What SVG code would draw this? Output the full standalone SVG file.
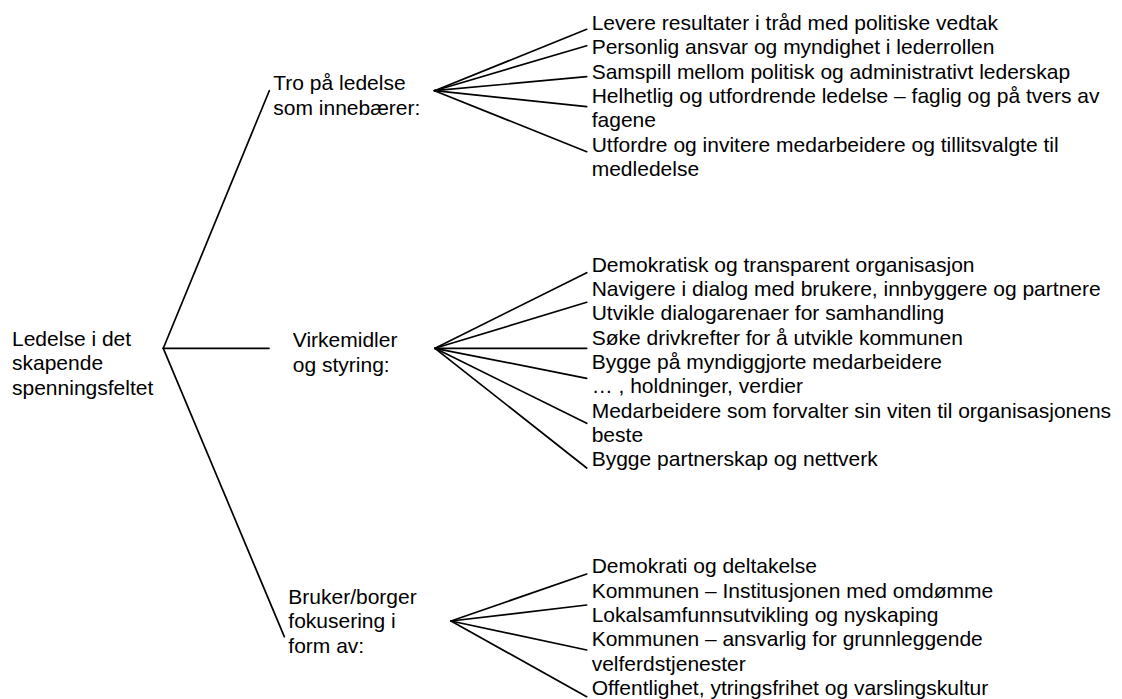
<svg xmlns="http://www.w3.org/2000/svg" width="1122" height="699" viewBox="0 0 1122 699">
<style>
text{font-family:"Liberation Sans",Arial,sans-serif;font-size:21px;fill:#000}
.c line{stroke:#000;stroke-width:1.7;fill:none;stroke-linecap:round}
</style>
<rect width="1122" height="699" fill="#fff"/>
<g id="connectors" class="c">
<line x1="163.3" y1="348.3" x2="269.3" y2="90.7"/>
<line x1="163.3" y1="348.3" x2="269" y2="348.3"/>
<line x1="163.3" y1="348.3" x2="284.3" y2="636.7"/>
<line x1="434.5" y1="90.7" x2="586.7" y2="29.3"/>
<line x1="434.5" y1="90.7" x2="586.7" y2="45.7"/>
<line x1="434.5" y1="90.7" x2="586.7" y2="76.7"/>
<line x1="434.5" y1="90.7" x2="586.7" y2="106.7"/>
<line x1="434.5" y1="90.7" x2="586.7" y2="151.7"/>
<line x1="435" y1="348.3" x2="586.7" y2="272.7"/>
<line x1="435" y1="348.3" x2="586.7" y2="302.3"/>
<line x1="435" y1="348.3" x2="586.7" y2="348.3"/>
<line x1="435" y1="348.3" x2="586.7" y2="378.3"/>
<line x1="435" y1="348.3" x2="586.7" y2="423.3"/>
<line x1="435" y1="348.3" x2="586.7" y2="468"/>
<line x1="451" y1="621" x2="586.7" y2="574"/>
<line x1="451" y1="621" x2="586.7" y2="605"/>
<line x1="451" y1="621" x2="586.7" y2="650"/>
<line x1="451" y1="621" x2="586.7" y2="696.7"/>
</g>
<g id="root"><text x="12" y="346"><tspan x="12">Ledelse i det</tspan><tspan x="12" y="370.3">skapende</tspan><tspan x="12" y="394.6">spenningsfeltet</tspan></text></g>
<g id="tro"><text x="273.3" y="90.3"><tspan x="273.3">Tro på ledelse</tspan><tspan x="273.3" y="114.6">som innebærer:</tspan></text></g>
<g id="virkemidler"><text x="292.8" y="347.3"><tspan x="292.8">Virkemidler</tspan><tspan x="292.8" y="371.6">og styring:</tspan></text></g>
<g id="bruker"><text x="288.3" y="604"><tspan x="288.3">Bruker/borger</tspan><tspan x="288.3" y="628.3">fokusering i</tspan><tspan x="288.3" y="652.6">form av:</tspan></text></g>
<g id="tro-items">
<g id="t1"><text x="591.7" y="30">Levere resultater i tråd med politiske vedtak</text></g>
<g id="t2"><text x="591.7" y="54.3">Personlig ansvar og myndighet i lederrollen</text></g>
<g id="t3"><text x="591.7" y="78.6">Samspill mellom politisk og administrativt lederskap</text></g>
<g id="t4"><text x="591.7" y="102.9"><tspan x="591.7">Helhetlig og utfordrende ledelse – faglig og på tvers av</tspan><tspan x="591.7" y="127.2">fagene</tspan></text></g>
<g id="t5"><text x="591.7" y="151.5"><tspan x="591.7">Utfordre og invitere medarbeidere og tillitsvalgte til</tspan><tspan x="591.7" y="175.8">medledelse</tspan></text></g>
</g>
<g id="virk-items">
<g id="v1"><text x="591.7" y="271.7">Demokratisk og transparent organisasjon</text></g>
<g id="v2"><text x="591.7" y="296">Navigere i dialog med brukere, innbyggere og partnere</text></g>
<g id="v3"><text x="591.7" y="320.3">Utvikle dialogarenaer for samhandling</text></g>
<g id="v4"><text x="591.7" y="344.6">Søke drivkrefter for å utvikle kommunen</text></g>
<g id="v5"><text x="591.7" y="368.9">Bygge på myndiggjorte medarbeidere</text></g>
<g id="v6"><text x="591.7" y="393.2">… , holdninger, verdier</text></g>
<g id="v7"><text x="591.7" y="417.5"><tspan x="591.7">Medarbeidere som forvalter sin viten til organisasjonens</tspan><tspan x="591.7" y="441.8">beste</tspan></text></g>
<g id="v8"><text x="591.7" y="466.1">Bygge partnerskap og nettverk</text></g>
</g>
<g id="bruker-items">
<g id="b1"><text x="591.7" y="573.3">Demokrati og deltakelse</text></g>
<g id="b2"><text x="591.7" y="597.6">Kommunen – Institusjonen med omdømme</text></g>
<g id="b3"><text x="591.7" y="621.9">Lokalsamfunnsutvikling og nyskaping</text></g>
<g id="b4"><text x="591.7" y="646.2"><tspan x="591.7">Kommunen – ansvarlig for grunnleggende</tspan><tspan x="591.7" y="670.5">velferdstjenester</tspan></text></g>
<g id="b5"><text x="591.7" y="694.8">Offentlighet, ytringsfrihet og varslingskultur</text></g>
</g>
</svg>
